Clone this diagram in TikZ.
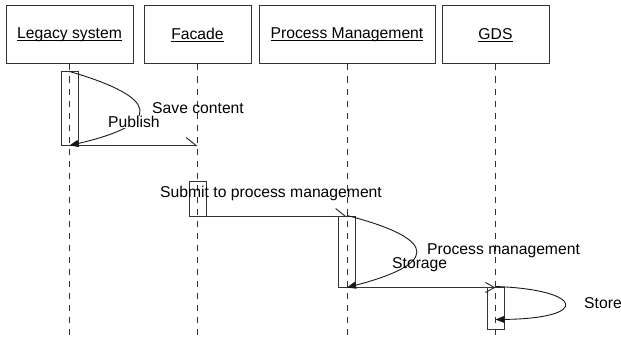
\documentclass[tikz,border=0pt]{standalone}
\usepackage{fontspec}
\setmainfont{Liberation Sans}
\usetikzlibrary{arrows.meta, positioning}

% underlined title, line through descenders
\newcommand{\ulname}[1]{\setbox0\hbox{#1}\rlap{\rule[-2.2pt]{\wd0}{0.9pt}}\box0}

\begin{document}
\begin{tikzpicture}[
		x=1pt, y=-1pt,
		font=\fontsize{15.7}{18}\selectfont,
		header/.style = {rectangle, draw=black!80, line width=1pt, minimum height=58pt, inner sep=0pt},
		lifeline/.style = {draw=black!80, line width=1pt, dash pattern=on 6pt off 6pt},
		activation/.style = {rectangle, draw=black!80, line width=1pt, minimum width=17pt, inner sep=0pt},
		message/.style = {draw=black!80, line width=1pt},
		selfcall/.style = {draw=black!90, line width=0.9pt, -{Triangle[length=9pt, width=7pt]}},
		msgtext/.style = {anchor=west, inner sep=0pt}
		]
		
		\useasboundingbox (0,0) rectangle (621,337);
		\coordinate (bottom) at (0,337);
		
		% Headers
		\node[header, minimum width=127pt] (Legacy) at (69.5,35) {\ulname{Legacy system}};
		\node[header, minimum width=107pt, right=10pt of Legacy] (Facade) {\ulname{Facade}};
		\node[header, minimum width=176pt, right=7pt of Facade] (PM) {\ulname{Process Management}};
		\node[header, minimum width=107pt, right=6pt of PM] (GDS) {\ulname{GDS}};
		
		% Lifelines
		\draw[lifeline] (Legacy.south) -- (Legacy.south |- bottom);
		\draw[lifeline] (Facade.south) -- (Facade.south |- bottom);
		\draw[lifeline] (PM.south) -- (PM.south |- bottom);
		\draw[lifeline] (GDS.south) -- (GDS.south |- bottom);
		
		% Activations
		\node[activation, minimum height=73pt] (LegacyAct) at (Legacy |- 0,108.5) {};
		\node[activation, minimum height=35pt] (FacadeAct) at (Facade |- 0,198.5) {};
		\node[activation, minimum height=71pt] (PMAct) at (PM |- 0,251.5) {};
		\node[activation, minimum height=42pt] (GDSAct) at (GDS |- 0,308) {};
		
		% Messages
		\draw[message, -{Straight Barb[left, length=10pt, width=16pt]}] (LegacyAct.south) -- (LegacyAct.south -| Facade);
		\draw[message, -{Straight Barb[left, length=10pt, width=16pt]}] (FacadeAct.south) -- (FacadeAct.south -| PM);
		\draw[message, -{Straight Barb[length=9pt, width=10pt]}] (PMAct.south) -- (PMAct.south -| GDS);
		
		% Self calls
		\draw[selfcall] (LegacyAct.north) .. controls +(90,26) and +(95,-22) .. (LegacyAct.south);
		\draw[selfcall] (PMAct.north) .. controls +(74,19) and +(107,-28) .. (PMAct.south);
		\draw[selfcall] (GDSAct.north) .. controls +(88,3) and +(96,-1) .. ([yshift=10pt]GDSAct.south);
		
		% Labels
		\node[msgtext] (SaveContent) at (152,108) {Save content};
		\node[msgtext, fill=white] (Publish) at (108,122) {Publish};
		\node[msgtext] (Submit) at (160,193) {Submit to process management};
		\node[msgtext] (ProcMgmt) at (427,251) {Process management};
		\node[msgtext] (Storage) at (392,265) {Storage};
		\node[msgtext] (Store) at (584,303) {Store};
		
	\end{tikzpicture}
\end{document}
